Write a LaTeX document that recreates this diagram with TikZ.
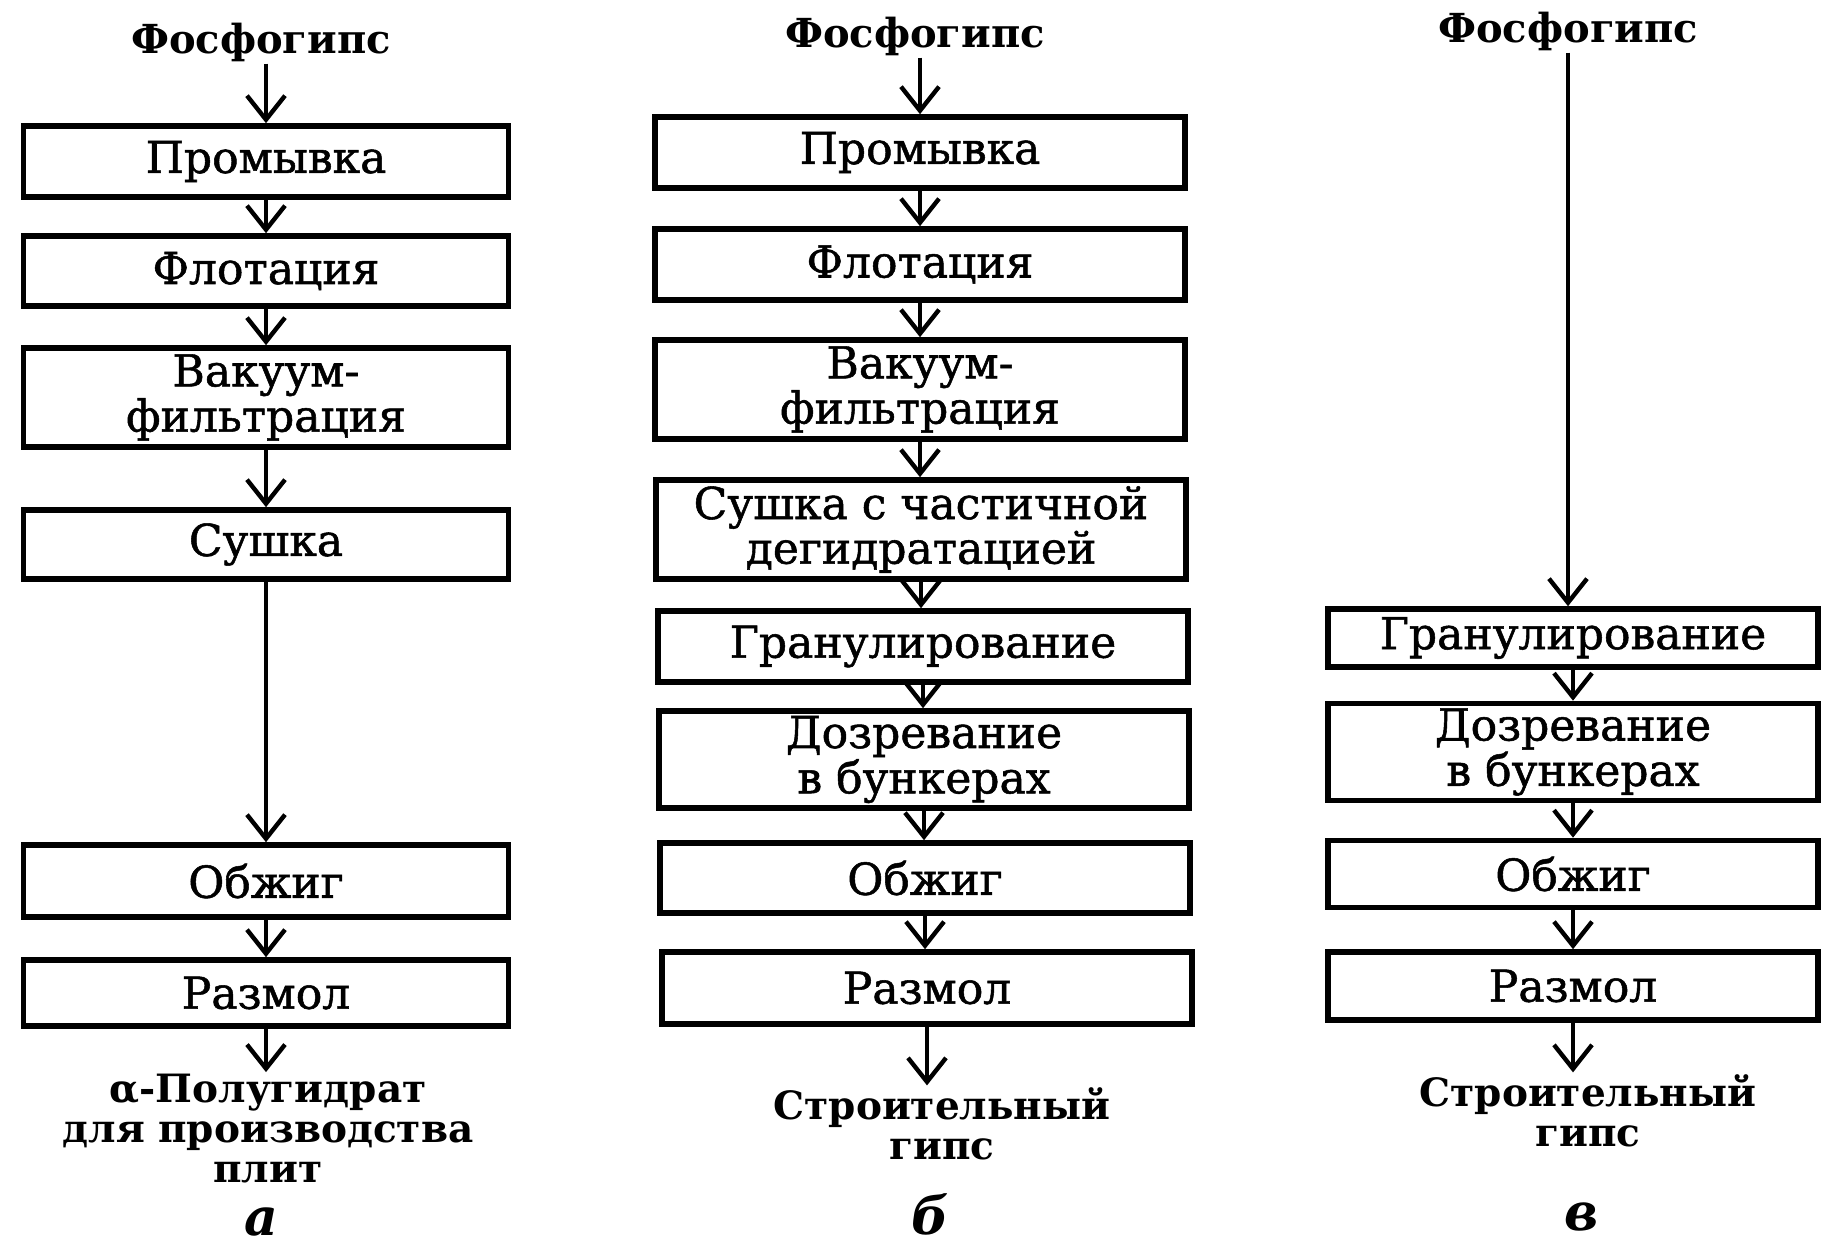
\documentclass[tikz,border=0pt]{standalone}
\usepackage{fontspec}
\setmainfont{DejaVu Serif}
\newfontfamily\boxfont[FakeBold=1.2]{DejaVu Serif}
\usetikzlibrary{arrows.meta}
\tikzset{
  stage/.style={draw, line width=2.8pt, inner sep=0pt, align=center,
    font=\boxfont\fontsize{22}{18}\selectfont},
  colA/.style={minimum width=242.5pt},
  colB/.style={minimum width=265pt},
  colC/.style={minimum width=245pt},
  header/.style={inner sep=1pt, font=\bfseries\fontsize{20}{20}\selectfont},
  footer/.style={inner sep=1pt, align=center, font=\bfseries\fontsize{19.5}{20}\selectfont},
  letter/.style={inner sep=1pt, font=\bfseries\itshape\fontsize{26}{26}\selectfont},
  flow/.style={line width=2.2pt, -{Straight Barb[length=12pt,width=19pt]}}
}
\begin{document}
\begin{tikzpicture}[x=0.5pt,y=-0.5pt]
\useasboundingbox[fill=white] (0,0) rectangle (1821,1245);

% ---------- column a ----------
\node[header] (ha) at (261,42) {Фосфогипс};
\node[stage,colA,minimum height=35.5pt] (a1) at (266,161.5) {Промывка};
\node[stage,colA,minimum height=35pt]   (a2) at (266,271) {Флотация};
\node[stage,colA,minimum height=49.5pt] (a3) at (266,397.5) {Вакуум-\\фильтрация};
\node[stage,colA,minimum height=34.5pt] (a4) at (266,544.5) {Сушка};
\node[stage,colA,minimum height=36pt]   (a5) at (266,881) {Обжиг};
\node[stage,colA,minimum height=33pt]   (a6) at (266,993) {Размол};
\node[footer] (fa) at (268,1129) {α-Полугидрат\\для производства\\плит};
\node[letter] (la) at (261,1222) {а};
\draw[flow] (a1.north |- ha.south) -- (a1.north);
\draw[flow] (a1) -- (a2);
\draw[flow] (a2) -- (a3);
\draw[flow] (a3) -- (a4);
\draw[flow] (a4) -- (a5);
\draw[flow] (a5) -- (a6);
\draw[flow] (a6.south) -- (a6.south |- fa.north);

% ---------- column b ----------
\node[header] (hb) at (915,36) {Фосфогипс};
\node[stage,colB,minimum height=35.5pt] (b1) at (920,152.5) {Промывка};
\node[stage,colB,minimum height=35.5pt] (b2) at (920,264.5) {Флотация};
\node[stage,colB,minimum height=49.5pt] (b3) at (920,389.5) {Вакуум-\\фильтрация};
\node[stage,colB,minimum height=49.5pt] (b4) at (921,529.5) {Сушка с частичной\\дегидратацией};
\node[stage,colB,minimum height=35.5pt] (b5) at (923,646.5) {Гранулирование};
\node[stage,colB,minimum height=48.5pt] (b6) at (924,759.5) {Дозревание\\в бункерах};
\node[stage,colB,minimum height=35pt]   (b7) at (925,878) {Обжиг};
\node[stage,colB,minimum height=36pt]   (b8) at (927,988) {Размол};
\node[footer] (fb) at (942,1124) {Строительный\\гипс};
\node[letter] (lb) at (930,1214) {б};
\draw[flow] (b1.north |- hb.south) -- (b1.north);
\draw[flow] (b1) -- (b2);
\draw[flow] (b2) -- (b3);
\draw[flow] (b3) -- (b3 |- b4.north);
\draw[flow] (b4) -- (b4 |- b5.north);
\draw[flow] (b5) -- (b5 |- b6.north);
\draw[flow] (b6) -- (b6 |- b7.north);
\draw[flow] (b7) -- (b7 |- b8.north);
\draw[flow] (b8.south) -- (b8.south |- fb.north);

% ---------- column c ----------
\node[header] (hc) at (1568,31) {Фосфогипс};
\node[stage,colC,minimum height=29pt]   (c1) at (1573,638) {Гранулирование};
\node[stage,colC,minimum height=48.5pt] (c2) at (1573,752) {Дозревание\\в бункерах};
\node[stage,colC,minimum height=33.5pt] (c3) at (1573,874) {Обжиг};
\node[stage,colC,minimum height=34pt]   (c4) at (1573,986) {Размол};
\node[footer] (fc) at (1588,1111) {Строительный\\гипс};
\node[letter] (lc) at (1582,1217) {в};
\draw[flow] (hc.south) -- (hc.south |- c1.north);
\draw[flow] (c1) -- (c2);
\draw[flow] (c2) -- (c3);
\draw[flow] (c3) -- (c4);
\draw[flow] (c4.south) -- (c4.south |- fc.north);
\end{tikzpicture}
\end{document}
